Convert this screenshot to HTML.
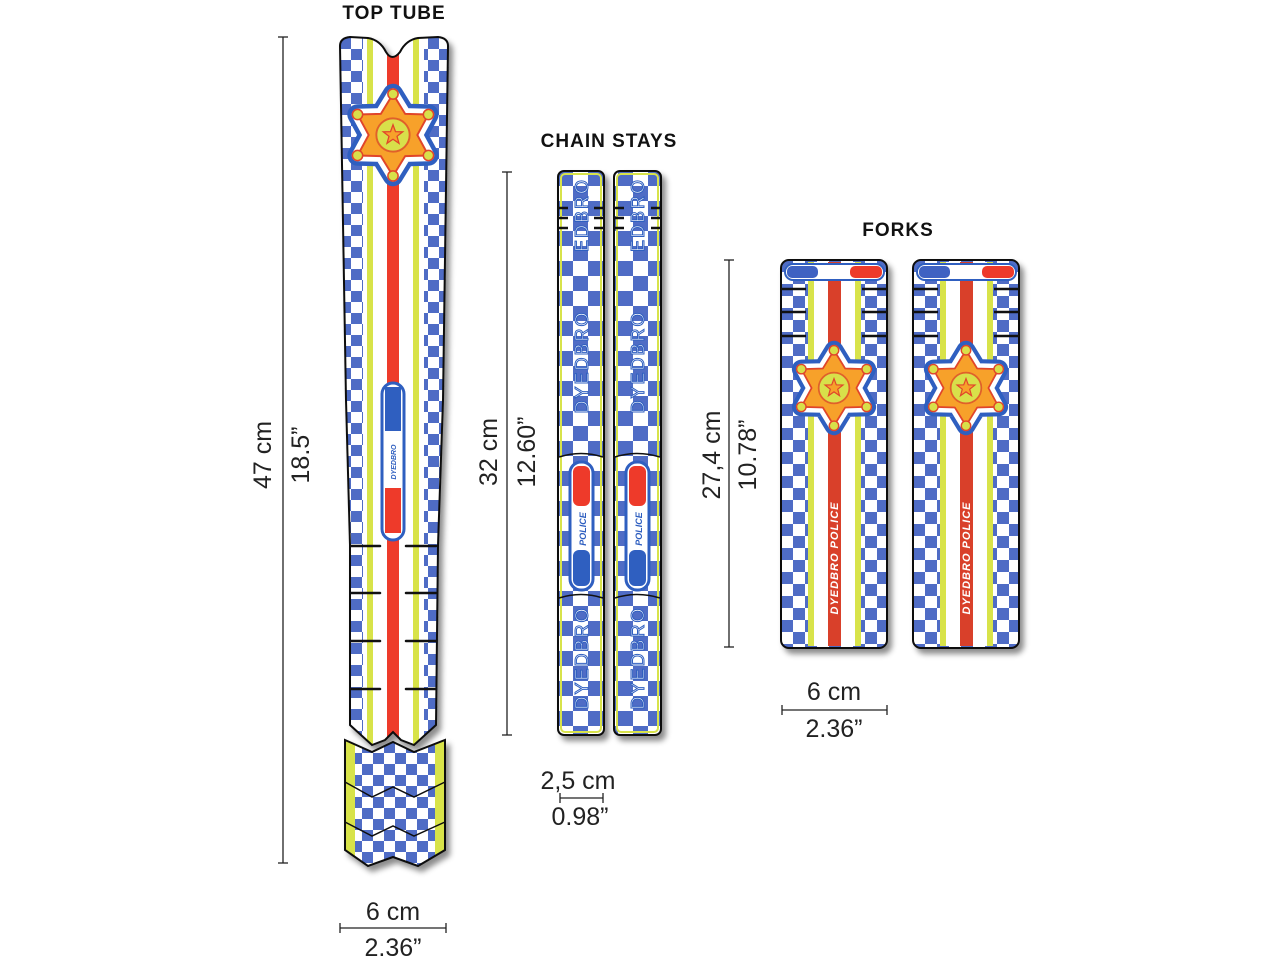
<!DOCTYPE html>
<html><head><meta charset="utf-8"><style>
html,body{margin:0;padding:0;background:#fff;width:1280px;height:960px;overflow:hidden}
svg{display:block}
.dim{font-family:"Liberation Sans",sans-serif;font-size:25px;fill:#222}
.ttl{font-family:"Liberation Sans",sans-serif;font-weight:bold;font-size:19px;fill:#111;letter-spacing:1px}
</style></head><body>
<svg width="1280" height="960" viewBox="0 0 1280 960" xmlns="http://www.w3.org/2000/svg">
<defs>
 <pattern id="ck" x="340" y="38" width="22" height="22" patternUnits="userSpaceOnUse">
  <rect width="22" height="22" fill="#fff"/><rect width="11" height="11" fill="#4f6cc5"/><rect x="11" y="11" width="11" height="11" fill="#4f6cc5"/>
 </pattern>
 <pattern id="ck2" x="558" y="171" width="30" height="30" patternUnits="userSpaceOnUse">
  <rect width="30" height="30" fill="#fff"/><rect width="15" height="15" fill="#4f6cc5"/><rect x="15" y="15" width="15" height="15" fill="#4f6cc5"/>
 </pattern>
 <pattern id="ck3" x="781" y="260" width="24" height="24" patternUnits="userSpaceOnUse">
  <rect width="24" height="24" fill="#fff"/><rect width="12" height="12" fill="#4f6cc5"/><rect x="12" y="12" width="12" height="12" fill="#4f6cc5"/>
 </pattern>
 <filter id="sh" x="-20%" y="-5%" width="150%" height="115%">
  <feDropShadow dx="4" dy="5" stdDeviation="3" flood-color="#000" flood-opacity="0.45"/>
 </filter>
 <clipPath id="csClip"><rect x="558" y="171" width="103" height="564"/></clipPath>
 <g id="badge">
  <polygon points="0,-32 9.5,-16.5 27.7,-16 19,0 27.7,16 9.5,16.5 0,32 -9.5,16.5 -27.7,16 -19,0 -27.7,-16 -9.5,-16.5" fill="#2f5fc0" stroke="#2f5fc0" stroke-width="16" stroke-linejoin="round"/>
  <polygon points="0,-32 9.5,-16.5 27.7,-16 19,0 27.7,16 9.5,16.5 0,32 -9.5,16.5 -27.7,16 -19,0 -27.7,-16 -9.5,-16.5" fill="#fff" stroke="#fff" stroke-width="9" stroke-linejoin="round"/>
  <polygon points="0,-32 9.5,-16.5 27.7,-16 19,0 27.7,16 9.5,16.5 0,32 -9.5,16.5 -27.7,16 -19,0 -27.7,-16 -9.5,-16.5" fill="#f7a12a" stroke="#e0452a" stroke-width="1.5" stroke-linejoin="round"/>
  <g fill="#d8e04a" stroke="#e0452a" stroke-width="1.2">
   <circle cx="0" cy="-32" r="4"/><circle cx="27.7" cy="-16" r="4"/><circle cx="27.7" cy="16" r="4"/>
   <circle cx="0" cy="32" r="4"/><circle cx="-27.7" cy="16" r="4"/><circle cx="-27.7" cy="-16" r="4"/>
   <circle cx="0" cy="0" r="13" stroke="#e0602a" stroke-width="1.5"/>
  </g>
  <polygon points="0,-8 1.94,-2.67 7.6,-2.5 3.14,1.02 4.7,6.5 0,3.3 -4.7,6.5 -3.14,1.02 -7.6,-2.5 -1.94,-2.67" fill="#f7a12a" stroke="#e0452a" stroke-width="1"/>
 </g>
 <clipPath id="ttUp"><path d="M340,46 Q340,38 350,37 L368,38 Q380,40 386,52 Q392,62 400,52 Q406,40 418,38 L438,37 Q448,38 448,46 L443,400 L438,545 L436,725 L414,745 L401,740 L393,732 L385,740 L372,745 L350,725 L350,545 L346,400 Z"/></clipPath>
 <clipPath id="ttLo"><path d="M345,740 L372,752 L393,742 L414,752 L445,740 L445,850 L418,866 L393,857 L368,866 L345,850 Z"/></clipPath>
</defs>

<text class="ttl" x="394" y="19" text-anchor="middle">TOP TUBE</text>
<text class="ttl" x="609" y="147" text-anchor="middle">CHAIN STAYS</text>
<text class="ttl" x="898" y="236" text-anchor="middle">FORKS</text>

<!-- TOP TUBE -->
<g filter="url(#sh)">
 <g clip-path="url(#ttUp)">
  <rect x="330" y="30" width="130" height="720" fill="url(#ck)"/>
  <rect x="363" y="30" width="61" height="720" fill="#fff"/>
  <rect x="367" y="30" width="6" height="720" fill="#d8e34a"/>
  <rect x="413" y="30" width="6" height="720" fill="#d8e34a"/>
  <rect x="387" y="30" width="12" height="720" fill="#ee3a2a"/>
 </g>
 <path d="M340,46 Q340,38 350,37 L368,38 Q380,40 386,52 Q392,62 400,52 Q406,40 418,38 L438,37 Q448,38 448,46 L443,400 L438,545 L436,725 L414,745 L401,740 L393,732 L385,740 L372,745 L350,725 L350,545 L346,400 Z" fill="none" stroke="#111" stroke-width="2"/>
 <g clip-path="url(#ttLo)">
  <rect x="340" y="735" width="110" height="135" fill="url(#ck)"/>
  <rect x="345" y="735" width="10" height="135" fill="#d8e34a"/>
  <rect x="435" y="735" width="10" height="135" fill="#d8e34a"/>
 </g>
 <path d="M345,740 L372,752 L393,742 L414,752 L445,740 L445,850 L418,866 L393,857 L368,866 L345,850 Z" fill="none" stroke="#111" stroke-width="2"/>
 <path d="M345,782 L372,797 L393,787 L414,797 L445,782 M345,822 L372,836 L393,826 L414,836 L445,822" fill="none" stroke="#111" stroke-width="1.5"/>
</g>
<g stroke="#111" stroke-width="2.5" stroke-linecap="round">
 <line x1="351" y1="546" x2="380" y2="546"/><line x1="406" y1="546" x2="436" y2="546"/>
 <line x1="351" y1="593" x2="380" y2="593"/><line x1="406" y1="593" x2="436" y2="593"/>
 <line x1="351" y1="641" x2="380" y2="641"/><line x1="406" y1="641" x2="436" y2="641"/>
 <line x1="351" y1="689" x2="380" y2="689"/><line x1="406" y1="689" x2="436" y2="689"/>
</g>
<use href="#badge" transform="translate(393,135) scale(1.28)"/>
<rect x="382" y="383" width="22" height="157" rx="11" fill="#fff" stroke="#2f5fc0" stroke-width="3"/>
<rect x="385" y="387" width="16" height="44" fill="#2f5fc0"/>
<rect x="385" y="488" width="16" height="45" fill="#ee3a2a"/>
<text transform="translate(396,462) rotate(-90)" text-anchor="middle" font-family="Liberation Sans,sans-serif" font-weight="bold" font-style="italic" font-size="7" fill="#2f5fc0">DYEDBRO</text>

<!-- CHAIN STAYS -->
<g filter="url(#sh)">
 <rect x="558" y="171" width="46" height="564" rx="6" fill="url(#ck2)" stroke="#111" stroke-width="2"/>
 <rect x="614" y="171" width="47" height="564" rx="6" fill="url(#ck2)" stroke="#111" stroke-width="2"/>
</g>
<g fill="none" stroke="#d8e34a" stroke-width="2">
 <rect x="561" y="174" width="40" height="558" rx="4"/>
 <rect x="617" y="174" width="41" height="558" rx="4"/>
</g>
<g clip-path="url(#csClip)" font-family="Liberation Sans,sans-serif" font-size="18" fill="#fff" stroke="#2f5fc0" stroke-width="1" text-anchor="middle" letter-spacing="2">
 <text transform="translate(588,362) rotate(-90)">DYEDBRO</text>
 <text transform="translate(644,362) rotate(-90)">DYEDBRO</text>
 <text transform="translate(588,658) rotate(-90)">DYEDBRO</text>
 <text transform="translate(644,658) rotate(-90)">DYEDBRO</text>
 <text transform="translate(588,215) rotate(-90)">EDBRO</text>
 <text transform="translate(644,215) rotate(-90)">EDBRO</text>
</g>
<g stroke="#111" stroke-width="2.5" fill="none">
 <path d="M558,208 h10 M558,218 h10 M558,228 h10 M594,208 h10 M594,218 h10 M594,228 h10"/>
 <path d="M614,208 h10 M614,218 h10 M614,228 h10 M651,208 h10 M651,218 h10 M651,228 h10"/>
 <path d="M559,457 Q581,450 603,457 M615,457 Q637,450 660,457 M559,598 Q581,591 603,598 M615,598 Q637,591 660,598" stroke-width="1.5"/>
</g>
<g>
 <rect x="570" y="462" width="23" height="128" rx="11" fill="#fff" stroke="#2f5fc0" stroke-width="3"/>
 <rect x="573" y="466" width="17" height="40" rx="6" fill="#ee3a2a"/>
 <rect x="573" y="550" width="17" height="36" rx="6" fill="#2f5fc0"/>
 <text transform="translate(586,529) rotate(-90)" text-anchor="middle" font-family="Liberation Sans,sans-serif" font-weight="bold" font-style="italic" font-size="9" fill="#2f5fc0">POLICE</text>
 <rect x="626" y="462" width="23" height="128" rx="11" fill="#fff" stroke="#2f5fc0" stroke-width="3"/>
 <rect x="629" y="466" width="17" height="40" rx="6" fill="#ee3a2a"/>
 <rect x="629" y="550" width="17" height="36" rx="6" fill="#2f5fc0"/>
 <text transform="translate(642,529) rotate(-90)" text-anchor="middle" font-family="Liberation Sans,sans-serif" font-weight="bold" font-style="italic" font-size="9" fill="#2f5fc0">POLICE</text>
</g>

<!-- FORKS -->
<g id="fork1">
 <rect x="781" y="260" width="106" height="388" rx="8" fill="url(#ck3)" stroke="#111" stroke-width="2" filter="url(#sh)"/>
 <rect x="809" y="262" width="52" height="384" fill="#fff"/>
 <rect x="808" y="262" width="6" height="384" fill="#d8e34a"/>
 <rect x="855" y="262" width="6" height="384" fill="#d8e34a"/>
 <rect x="828" y="262" width="13" height="384" fill="#d9402a"/>
 <rect x="785" y="264" width="99" height="16" rx="8" fill="#fff" stroke="#2f5fc0" stroke-width="2"/>
 <rect x="787" y="266" width="31" height="12" rx="5" fill="#3f62c2"/>
 <rect x="850" y="266" width="32" height="12" rx="5" fill="#ee3a2a"/>
 <g stroke="#111" stroke-width="2.5" fill="none">
  <path d="M781,289 h25 M781,312 h25 M781,336 h25 M862,289 h25 M862,312 h25 M862,336 h25"/>
 </g>
 <use href="#badge" transform="translate(834,388) scale(1.18)"/>
 <text transform="translate(838,558) rotate(-90)" text-anchor="middle" font-family="Liberation Sans,sans-serif" font-weight="bold" font-style="italic" font-size="11" fill="#fff" letter-spacing="1">DYEDBRO POLICE</text>
</g>
<use href="#fork1" transform="translate(132,0)"/>

<!-- DIMENSIONS -->
<g stroke="#222" stroke-width="1.3">
 <line x1="283" y1="37" x2="283" y2="863"/><line x1="278" y1="37" x2="288" y2="37"/><line x1="278" y1="863" x2="288" y2="863"/>
 <line x1="507" y1="172" x2="507" y2="735"/><line x1="502" y1="172" x2="512" y2="172"/><line x1="502" y1="735" x2="512" y2="735"/>
 <line x1="729" y1="260" x2="729" y2="647"/><line x1="724" y1="260" x2="734" y2="260"/><line x1="724" y1="647" x2="734" y2="647"/>
 <line x1="340" y1="928" x2="446" y2="928"/><line x1="340" y1="923" x2="340" y2="933"/><line x1="446" y1="923" x2="446" y2="933"/>
 <line x1="560" y1="798" x2="603" y2="798"/><line x1="560" y1="793" x2="560" y2="803"/><line x1="603" y1="793" x2="603" y2="803"/>
 <line x1="782" y1="710" x2="887" y2="710"/><line x1="782" y1="705" x2="782" y2="715"/><line x1="887" y1="705" x2="887" y2="715"/>
</g>
<text class="dim" transform="translate(271,455) rotate(-90)" text-anchor="middle">47 cm</text>
<text class="dim" transform="translate(309,455) rotate(-90)" text-anchor="middle">18.5”</text>
<text class="dim" transform="translate(497,452) rotate(-90)" text-anchor="middle">32 cm</text>
<text class="dim" transform="translate(535,452) rotate(-90)" text-anchor="middle">12.60”</text>
<text class="dim" transform="translate(720,455) rotate(-90)" text-anchor="middle">27,4 cm</text>
<text class="dim" transform="translate(756,455) rotate(-90)" text-anchor="middle">10.78”</text>
<text class="dim" x="393" y="920" text-anchor="middle">6 cm</text>
<text class="dim" x="393" y="956" text-anchor="middle">2.36”</text>
<text class="dim" x="578" y="789" text-anchor="middle">2,5 cm</text>
<text class="dim" x="580" y="825" text-anchor="middle">0.98”</text>
<text class="dim" x="834" y="700" text-anchor="middle">6 cm</text>
<text class="dim" x="834" y="737" text-anchor="middle">2.36”</text>
</svg>
</body></html>
